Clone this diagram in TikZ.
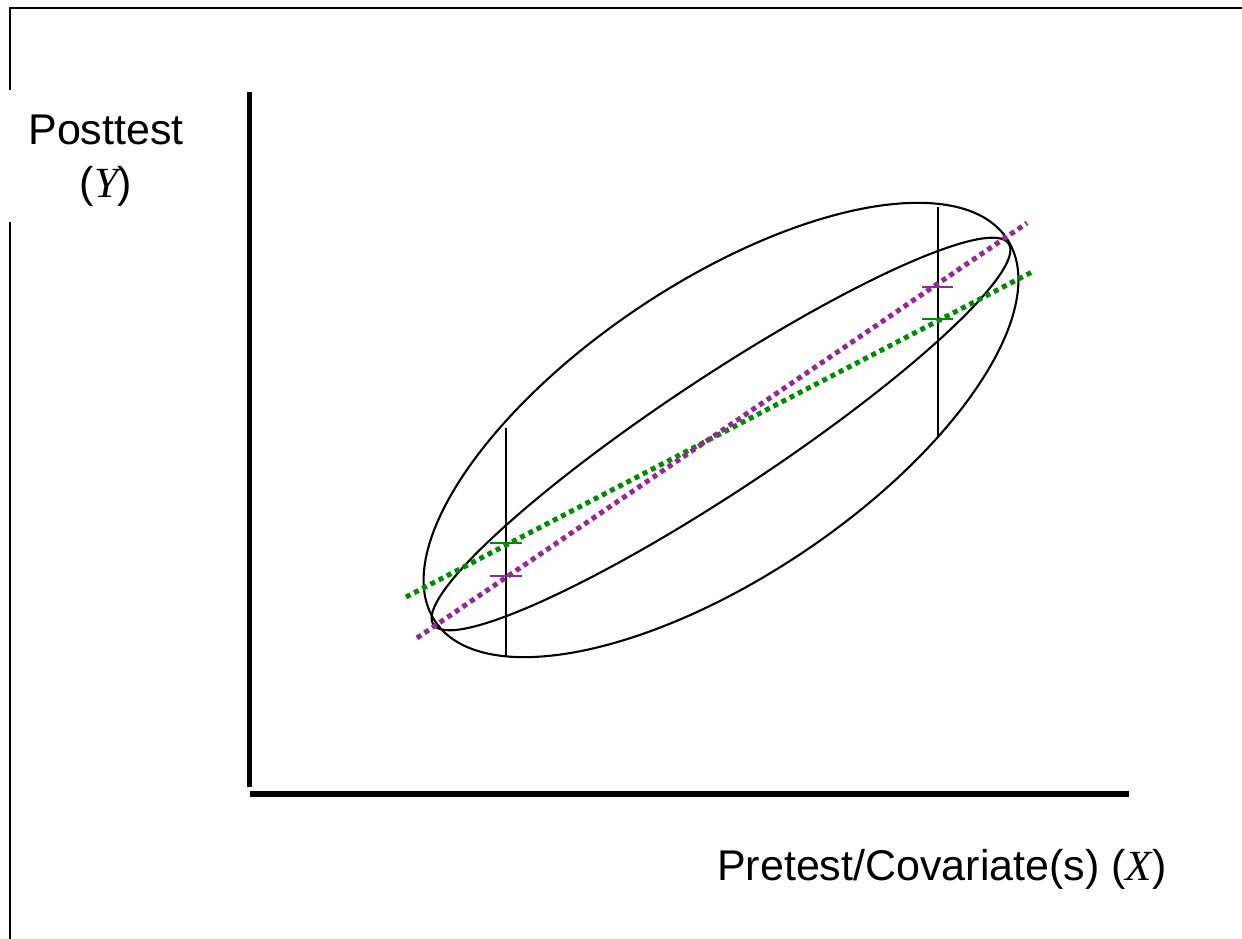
\documentclass[tikz,border=0pt]{standalone}
\usepackage{fontspec}
\setmainfont{Liberation Sans}
\newfontfamily\tms{Liberation Serif}
\definecolor{dgreen}{RGB}{0,140,0}
\definecolor{dpurple}{RGB}{150,40,150}
\begin{document}
\begin{tikzpicture}[x=1pt,y=1pt,
  frameline/.style={line width=2pt},
  axisline/.style={line width=5pt},
  thinline/.style={line width=2.1pt},
  dotline/.style={line width=5pt,dash pattern=on 5pt off 4.2pt},
  tickline/.style={line width=2pt},
  lbl/.style={inner sep=0pt,font=\fontsize{43}{53}\selectfont}]
\useasboundingbox (0,0) rectangle (1242,939);
% frame
\draw[frameline] (9,931) -- (1242,931);
\draw[frameline] (10,932) -- (10,849);
\draw[frameline] (10,717) -- (10,0);
% axes
\coordinate (ytop) at (249,847);
\coordinate (ybot) at (249,152);
\coordinate (xl) at (250,145);
\coordinate (xr) at (1129,145);
\draw[axisline] (ytop) -- (ybot);
\draw[line width=6pt] (xl) -- (xr);
% ellipses
\draw[thinline] (721,509) ellipse[x radius=344,y radius=147.3,rotate=33.8];
\draw[thinline] (721,505) ellipse[x radius=345,y radius=57,rotate=33.5];
% vertical lines
\coordinate (vl1) at (506,511);
\coordinate (vl2) at (506,282);
\coordinate (vr1) at (938,732);
\coordinate (vr2) at (938,502);
\draw[thinline] (vl1) -- (vl2);
\draw[thinline] (vr1) -- (vr2);
% dotted regression lines
\coordinate (g1) at (406,342);
\coordinate (g2) at (1032,667);
\coordinate (p1) at (417,301);
\coordinate (p2) at (1027,716);
\draw[dotline,dgreen] (g1) -- (g2);
\draw[dotline,dpurple] (p1) -- (p2);
% tick marks
\draw[tickline,dgreen] (490,396) -- (522,396);
\draw[tickline,dpurple] (490,363) -- (522,363);
\draw[tickline,dpurple] (922,652) -- (953,652);
\draw[tickline,dgreen] (922,620) -- (953,620);
% labels
\node[lbl,anchor=base] (ylab1) at (106,794) {Posttest};
\node[lbl,anchor=base] (ylab2) at (106,741) {({\tms\itshape Y})};
\node[lbl,anchor=base west] (xlab) at (717,58) {Pretest/Covariate(s) ({\tms\itshape X})};
\end{tikzpicture}
\end{document}
